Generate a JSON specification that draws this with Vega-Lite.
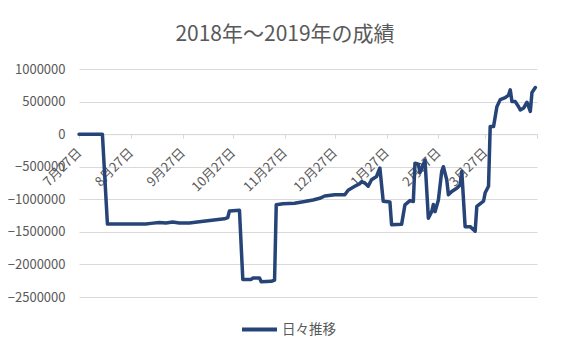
{
  "$schema": "https://vega.github.io/schema/vega-lite/v6.json",
  "width": 458,
  "height": 228,
  "autosize": {"type": "none"},
  "padding": {"left": 79, "top": 69, "right": 35, "bottom": 58},
  "background": "white",
  "title": {
    "text": "2018年～2019年の成績",
    "font": "Noto Sans CJK JP",
    "fontSize": 21,
    "fontWeight": "normal",
    "color": "#595959",
    "anchor": "middle",
    "dx": -23,
    "offset": 18
  },
  "data": {
    "values": [
      {"date": "2018/07/27", "value": 0},
      {"date": "2018/07/30", "value": 0},
      {"date": "2018/08/03", "value": 0},
      {"date": "2018/08/07", "value": 0},
      {"date": "2018/08/10", "value": 0},
      {"date": "2018/08/13", "value": -1380000},
      {"date": "2018/08/20", "value": -1380000},
      {"date": "2018/08/27", "value": -1380000},
      {"date": "2018/09/05", "value": -1380000},
      {"date": "2018/09/08", "value": -1370000},
      {"date": "2018/09/13", "value": -1355000},
      {"date": "2018/09/17", "value": -1365000},
      {"date": "2018/09/21", "value": -1350000},
      {"date": "2018/09/25", "value": -1365000},
      {"date": "2018/10/01", "value": -1365000},
      {"date": "2018/10/07", "value": -1345000},
      {"date": "2018/10/12", "value": -1330000},
      {"date": "2018/10/17", "value": -1315000},
      {"date": "2018/10/22", "value": -1300000},
      {"date": "2018/10/24", "value": -1280000},
      {"date": "2018/10/25", "value": -1180000},
      {"date": "2018/10/31", "value": -1170000},
      {"date": "2018/11/02", "value": -2230000},
      {"date": "2018/11/07", "value": -2230000},
      {"date": "2018/11/08", "value": -2210000},
      {"date": "2018/11/12", "value": -2210000},
      {"date": "2018/11/13", "value": -2265000},
      {"date": "2018/11/19", "value": -2260000},
      {"date": "2018/11/21", "value": -2240000},
      {"date": "2018/11/22", "value": -1085000},
      {"date": "2018/11/26", "value": -1070000},
      {"date": "2018/12/03", "value": -1060000},
      {"date": "2018/12/09", "value": -1035000},
      {"date": "2018/12/14", "value": -1010000},
      {"date": "2018/12/18", "value": -985000},
      {"date": "2018/12/21", "value": -950000},
      {"date": "2018/12/27", "value": -930000},
      {"date": "2019/01/02", "value": -930000},
      {"date": "2019/01/04", "value": -860000},
      {"date": "2019/01/08", "value": -800000},
      {"date": "2019/01/11", "value": -760000},
      {"date": "2019/01/12", "value": -730000},
      {"date": "2019/01/14", "value": -750000},
      {"date": "2019/01/16", "value": -800000},
      {"date": "2019/01/18", "value": -700000},
      {"date": "2019/01/21", "value": -650000},
      {"date": "2019/01/23", "value": -520000},
      {"date": "2019/01/25", "value": -1030000},
      {"date": "2019/01/29", "value": -1040000},
      {"date": "2019/01/30", "value": -1390000},
      {"date": "2019/02/05", "value": -1385000},
      {"date": "2019/02/07", "value": -1085000},
      {"date": "2019/02/10", "value": -1020000},
      {"date": "2019/02/12", "value": -1035000},
      {"date": "2019/02/13", "value": -445000},
      {"date": "2019/02/15", "value": -460000},
      {"date": "2019/02/16", "value": -590000},
      {"date": "2019/02/19", "value": -400000},
      {"date": "2019/02/21", "value": -1290000},
      {"date": "2019/02/23", "value": -1190000},
      {"date": "2019/02/24", "value": -1080000},
      {"date": "2019/02/25", "value": -1190000},
      {"date": "2019/02/27", "value": -1010000},
      {"date": "2019/03/01", "value": -570000},
      {"date": "2019/03/02", "value": -500000},
      {"date": "2019/03/04", "value": -700000},
      {"date": "2019/03/05", "value": -930000},
      {"date": "2019/03/07", "value": -880000},
      {"date": "2019/03/10", "value": -830000},
      {"date": "2019/03/12", "value": -780000},
      {"date": "2019/03/13", "value": -570000},
      {"date": "2019/03/15", "value": -1420000},
      {"date": "2019/03/18", "value": -1420000},
      {"date": "2019/03/21", "value": -1490000},
      {"date": "2019/03/22", "value": -1110000},
      {"date": "2019/03/26", "value": -1030000},
      {"date": "2019/03/27", "value": -900000},
      {"date": "2019/03/29", "value": -800000},
      {"date": "2019/03/30", "value": 116000},
      {"date": "2019/04/01", "value": 116000},
      {"date": "2019/04/03", "value": 420000},
      {"date": "2019/04/05", "value": 530000},
      {"date": "2019/04/08", "value": 560000},
      {"date": "2019/04/10", "value": 600000},
      {"date": "2019/04/11", "value": 680000},
      {"date": "2019/04/12", "value": 500000},
      {"date": "2019/04/14", "value": 500000},
      {"date": "2019/04/16", "value": 420000},
      {"date": "2019/04/17", "value": 370000},
      {"date": "2019/04/19", "value": 400000},
      {"date": "2019/04/21", "value": 490000},
      {"date": "2019/04/23", "value": 350000},
      {"date": "2019/04/24", "value": 640000},
      {"date": "2019/04/26", "value": 715000}
    ]
  },
  "mark": {"type": "line", "strokeWidth": 3.5, "strokeJoin": "round", "strokeCap": "round"},
  "encoding": {
    "x": {
      "field": "date",
      "type": "temporal",
      "scale": {"domain": [{"year": 2018, "month": 7, "date": 27}, {"year": 2019, "month": 4, "date": 27}]},
      "axis": {
        "title": null,
        "values": [
          {"year": 2018, "month": 7, "date": 27},
          {"year": 2018, "month": 8, "date": 27},
          {"year": 2018, "month": 9, "date": 27},
          {"year": 2018, "month": 10, "date": 27},
          {"year": 2018, "month": 11, "date": 27},
          {"year": 2018, "month": 12, "date": 27},
          {"year": 2019, "month": 1, "date": 27},
          {"year": 2019, "month": 2, "date": 27},
          {"year": 2019, "month": 3, "date": 27},
          {"year": 2019, "month": 4, "date": 27}
        ],
        "format": "%-m月%-d日",
        "labelExpr": "month(datum.value) == 3 ? '' : datum.label",
        "labelAngle": -45,
        "labelAlign": "right",
        "labelBaseline": "middle",
        "labelFont": "Noto Sans CJK JP",
        "labelFontSize": 13,
        "labelColor": "#595959",
        "labelPadding": 12,
        "labelOverlap": false,
        "labelBound": false,
        "labelFlush": false,
        "offset": -162.86,
        "domainColor": "#d9d9d9",
        "tickColor": "#d9d9d9",
        "tickSize": 4,
        "grid": false
      }
    },
    "y": {
      "field": "value",
      "type": "quantitative",
      "scale": {"domain": [-2500000, 1000000], "nice": false, "zero": false},
      "axis": {
        "title": null,
        "values": [-2500000, -2000000, -1500000, -1000000, -500000, 0, 500000, 1000000],
        "format": "d",
        "grid": true,
        "gridColor": "#d9d9d9",
        "domain": false,
        "ticks": false,
        "labelPadding": 14,
        "labelFont": "Noto Sans CJK JP",
        "labelFontSize": 13,
        "labelColor": "#595959"
      }
    },
    "color": {
      "datum": "日々推移",
      "scale": {"range": ["#264478"]},
      "legend": {
        "orient": "none",
        "legendX": 161,
        "legendY": 241,
        "title": null,
        "symbolType": "stroke",
        "symbolSize": 1225,
        "symbolStrokeWidth": 4,
        "labelFont": "Noto Sans CJK JP",
        "labelFontSize": 13.5,
        "labelColor": "#595959",
        "labelOffset": 3
      }
    }
  },
  "config": {"view": {"stroke": null}}
}
